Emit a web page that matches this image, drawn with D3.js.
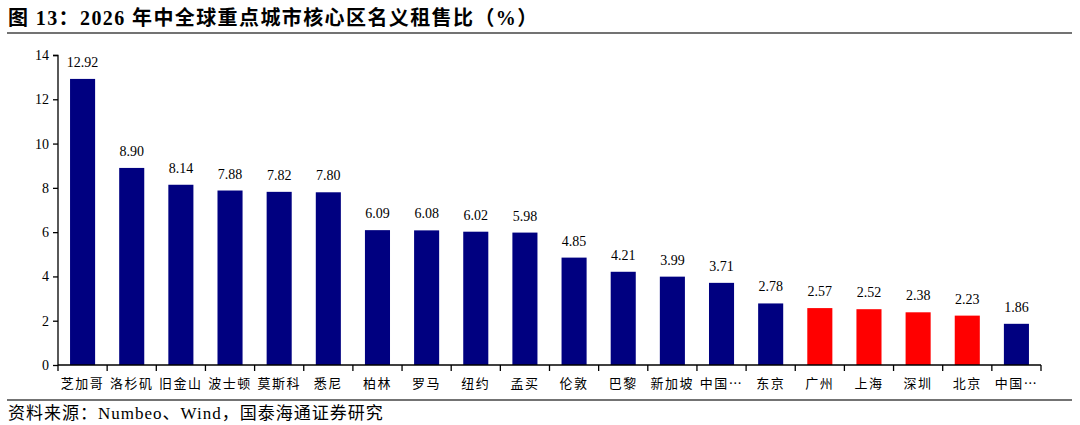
<!DOCTYPE html>
<html>
<head>
<meta charset="utf-8">
<script src="https://cdn.jsdelivr.net/npm/d3@7"></script>
<style>
  body { margin: 0; background: #fff; }
  svg text { font-family: "Liberation Serif", "Noto Sans CJK SC", serif; fill: #000; }
</style>
</head>
<body>
<div class="chart"></div>
<script>
const cities = ['芝加哥', '洛杉矶', '旧金山', '波士顿', '莫斯科', '悉尼', '柏林', '罗马', '纽约', '孟买',
  '伦敦', '巴黎', '新加坡', '中国…', '东京', '广州', '上海', '深圳', '北京', '中国…']
const ratios = [12.92, 8.90, 8.14, 7.88, 7.82, 7.80, 6.09, 6.08, 6.02, 5.98,
  4.85, 4.21, 3.99, 3.71, 2.78, 2.57, 2.52, 2.38, 2.23, 1.86]
const highlighted = ['广州', '上海', '深圳', '北京']
const yTicks = [0, 2, 4, 6, 8, 10, 12, 14]
const titleText = '图 13：2026 年中全球重点城市核心区名义租售比（%）'
const sourceText = '资料来源：Numbeo、Wind，国泰海通证券研究'

const svgWidth = 1080
const svgHeight = 425
const margin = {top: 55, right: 39, bottom: 60, left: 58}
const graphWidth = svgWidth - margin.left - margin.right
const graphHeight = svgHeight - margin.top - margin.bottom

const data = cities.map((c, i) => ({key: i, city: c, value: ratios[i]}))

const svg = d3.select('.chart').append('svg')
  .attr('width', svgWidth)
  .attr('height', svgHeight)

// title + rules
svg.append('text')
  .attr('x', 8).attr('y', 25)
  .style('font-size', '20px').style('font-weight', 'bold')
  .style('letter-spacing', '1.4px')
  .text(titleText)
svg.append('line')
  .attr('x1', 7).attr('x2', 1072).attr('y1', 33).attr('y2', 33)
  .attr('stroke', '#444').attr('stroke-width', 1.3)
svg.append('line')
  .attr('x1', 7).attr('x2', 1072).attr('y1', 400).attr('y2', 400)
  .attr('stroke', '#444').attr('stroke-width', 1.3)
svg.append('text')
  .attr('x', 8).attr('y', 419)
  .style('font-size', '17px')
  .style('letter-spacing', '1px')
  .text(sourceText)

const graph = svg.append('g')
  .attr('transform', `translate(${margin.left},${margin.top})`)

const x = d3.scaleBand()
  .domain(data.map(d => d.key))
  .range([0, graphWidth])
  .paddingInner(0.49)
  .paddingOuter(0.245)

const y = d3.scaleLinear()
  .domain([0, 14])
  .range([graphHeight, 0])

graph.selectAll('.bar')
  .data(data)
  .join('rect')
  .attr('class', 'bar')
  .attr('x', d => x(d.key))
  .attr('y', d => y(d.value))
  .attr('width', x.bandwidth())
  .attr('height', d => y(0) - y(d.value))
  .attr('fill', d => highlighted.includes(d.city) ? '#ff0000' : '#000080')

graph.selectAll('.val')
  .data(data)
  .join('text')
  .attr('class', 'val')
  .attr('x', d => x(d.key) + x.bandwidth() / 2)
  .attr('y', d => y(d.value) - 12)
  .attr('text-anchor', 'middle')
  .style('font-size', '14px')
  .text(d => d.value.toFixed(2))

// y axis
const yAxis = graph.append('g')
  .call(d3.axisLeft(y).tickValues(yTicks).tickSize(5).tickFormat(d3.format('d')))
yAxis.select('.domain').attr('stroke', '#000').attr('stroke-width', 1.3)
  .attr('d', `M-5,0.5H0V${graphHeight}`)
yAxis.selectAll('.tick line').attr('stroke', '#000').attr('stroke-width', 1.3)
yAxis.selectAll('.tick text')
  .attr('x', -9)
  .style('font-family', '"Liberation Serif", serif')
  .style('font-size', '14px')

// x axis: ticks between categories
const xAxis = graph.append('g').attr('transform', `translate(0,${graphHeight})`)
xAxis.append('line')
  .attr('x1', 0).attr('x2', graphWidth).attr('y1', 0).attr('y2', 0)
  .attr('stroke', '#000').attr('stroke-width', 1.3)
const edges = d3.range(data.length + 1).map(i => i * graphWidth / data.length)
xAxis.selectAll('.xtick')
  .data(edges)
  .join('line')
  .attr('class', 'xtick')
  .attr('x1', d => d).attr('x2', d => d)
  .attr('y1', 0).attr('y2', 6)
  .attr('stroke', '#000').attr('stroke-width', 1.3)
xAxis.selectAll('.xlab')
  .data(data)
  .join('text')
  .attr('class', 'xlab')
  .attr('x', d => x(d.key) + x.bandwidth() / 2)
  .attr('y', 23)
  .attr('text-anchor', 'middle')
  .style('font-family', '"Noto Sans CJK SC", sans-serif')
  .style('font-size', '13px')
  .style('letter-spacing', '1.5px')
  .text(d => d.city)
</script>
</body>
</html>
